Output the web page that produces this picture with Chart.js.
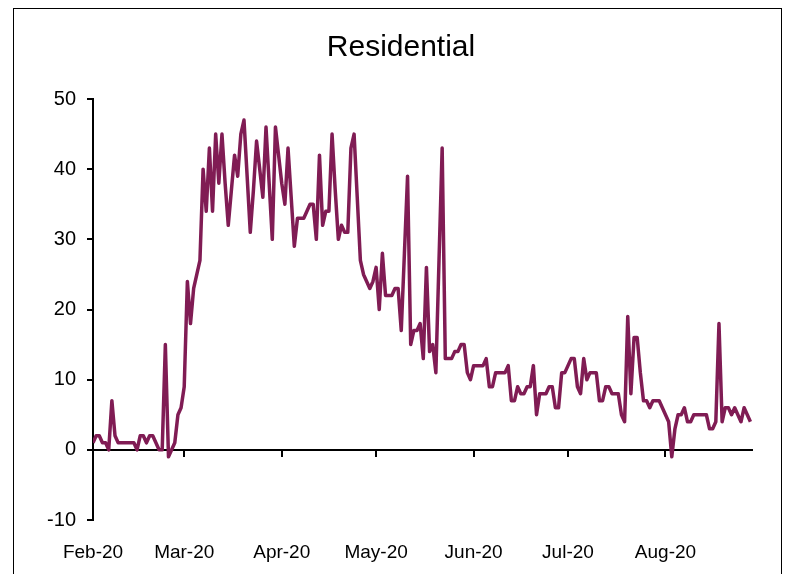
<!DOCTYPE html>
<html>
<head>
<meta charset="utf-8">
<script src="https://cdn.jsdelivr.net/npm/chart.js@4/dist/chart.umd.min.js"></script>
<style>
  body { margin: 0; background: #fff; }
  #wrap { position: relative; width: 795px; height: 574px; overflow: hidden; }
  #frame { position: absolute; left: 13px; top: 8px; width: 767px; height: 600px; border: 1.5px solid #000; }
  canvas { position: absolute; left: 0; top: 0; }
</style>
</head>
<body>
<div id="wrap">
  <div id="frame"></div>
  <canvas id="myChart" width="795" height="574"></canvas>
</div>
<script>
// daily values, starting 1 Feb 2020 (index 0)
var startDate = '2020-02-01';
var residential = [
  1, 2, 2, 1, 1, 0, 7, 2, 1, 1, 1, 1, 1, 1, 0, 2, 2, 1, 2, 2,
  1, 0, 0, 15, -1, 0, 1, 5, 6,
  9, 24, 18, 23, 25, 27, 40, 34, 43, 34, 45, 38, 45, 38, 32, 37, 42, 39, 45, 47,
  39, 31, 37, 44, 40, 36, 46, 38, 30, 46, 42,
  38, 35, 43, 36, 29, 33, 33, 33, 34, 35, 35, 30, 42, 32, 34, 34, 45, 37, 30, 32,
  31, 31, 43, 45, 36, 27, 25, 24, 23, 24,
  26, 20, 28, 22, 22, 22, 23, 23, 17, 28, 39, 15, 17, 17, 18, 13, 26, 14, 15, 11,
  27, 43, 13, 13, 13, 14, 14, 15, 15, 11, 10,
  12, 12, 12, 12, 13, 9, 9, 11, 11, 11, 11, 12, 7, 7, 9, 8, 8, 9, 9, 12,
  5, 8, 8, 8, 9, 9, 6, 6, 11, 11,
  12, 13, 13, 9, 8, 13, 10, 11, 11, 11, 7, 7, 9, 9, 8, 8, 8, 5, 4, 19,
  8, 16, 16, 11, 7, 7, 6, 7, 7, 7, 6,
  5, 4, -1, 3, 5, 5, 6, 4, 4, 5, 5, 5, 5, 5, 3, 3, 4, 18, 4, 6,
  6, 5, 6, 5, 4, 6, 5, 4
];
var monthStarts = [0, 29, 60, 90, 121, 151, 182];
var monthLabels = ['Feb-20', 'Mar-20', 'Apr-20', 'May-20', 'Jun-20', 'Jul-20', 'Aug-20'];
var yTicks = [-10, 0, 10, 20, 30, 40, 50];

var points = residential.map(function (v, i) { return { x: i, y: v }; });

function monthTicks(scale) {
  scale.ticks = monthStarts.map(function (v) { return { value: v }; });
}

var font = "'Liberation Sans', Arial, sans-serif";
var ctx = document.getElementById('myChart').getContext('2d');
var chart = new Chart(ctx, {
  type: 'line',
  data: {
    datasets: [{
      label: 'Residential',
      data: points,
      borderColor: '#801C54',
      borderWidth: 3.5,
      borderJoinStyle: 'round',
      pointRadius: 0,
      tension: 0,
      fill: false
    }]
  },
  options: {
    responsive: false,
    animation: false,
    layout: { padding: { left: 7, right: 0, top: 0, bottom: 0 } },
    plugins: {
      legend: { display: false },
      tooltip: { enabled: false },
      title: {
        display: true,
        text: 'Residential',
        color: '#000',
        font: { family: font, size: 30, weight: 'normal' },
        padding: { top: 30, bottom: 33 }
      }
    },
    scales: {
      x: {
        type: 'linear',
        position: 'bottom',
        min: 0,
        max: 209.5,
        afterBuildTicks: monthTicks,
        afterFit: function (s) { s.height = 54; },
        grid: { display: false },
        border: { display: false },
        ticks: {
          color: '#000',
          padding: 13,
          maxRotation: 0,
          autoSkip: false,
          font: { family: font, size: 19 },
          callback: function (v) {
            var i = monthStarts.indexOf(v);
            return i >= 0 ? monthLabels[i] : '';
          }
        }
      },
      x0: {
        type: 'linear',
        axis: 'x',
        position: { y: 0 },
        min: 0,
        max: 209.5,
        afterBuildTicks: monthTicks,
        grid: { drawOnChartArea: false, color: '#000', lineWidth: 2, tickLength: 6 },
        border: { color: '#000', width: 2 },
        ticks: { display: false }
      },
      y: {
        min: -10,
        max: 50,
        afterBuildTicks: function (s) { s.ticks = yTicks.map(function (v) { return { value: v }; }); },
        afterFit: function (s) { s.width = 86; },
        grid: {
          color: function (c) { return c.tick && c.tick.value === 0 ? '#000' : 'rgba(0,0,0,0)'; },
          tickColor: '#000',
          lineWidth: 2,
          tickLength: 6
        },
        border: { color: '#000', width: 2 },
        ticks: {
          color: '#000',
          padding: 11,
          font: { family: font, size: 20 }
        }
      },
      // empty right gutter so the plot stops short of the frame
      yr: {
        position: 'right',
        axis: 'y',
        min: -10,
        max: 50,
        afterFit: function (s) { s.width = 43; },
        grid: { display: false },
        border: { display: false },
        ticks: { display: false }
      }
    }
  }
});
</script>
</body>
</html>
